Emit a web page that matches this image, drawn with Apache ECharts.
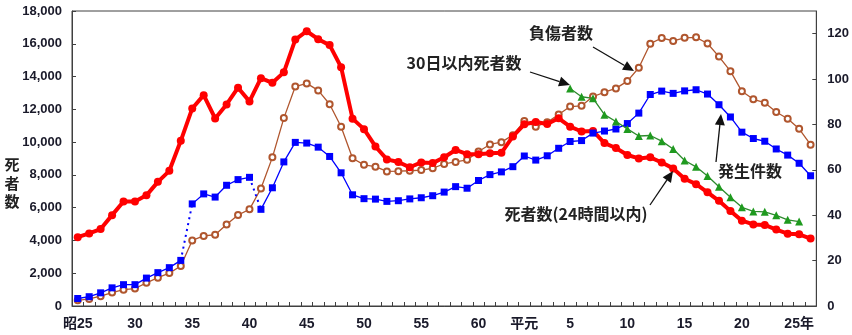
<!DOCTYPE html>
<html>
<head>
<meta charset="utf-8">
<script src="https://cdn.jsdelivr.net/npm/echarts@6/dist/echarts.min.js"></script>
<style>
html,body{margin:0;padding:0;background:#fff;}
#chart{width:852px;height:335px;}
</style>
</head>
<body>
<div id="chart"></div>
<script>
// Categories: 昭和25年 (1950) … 平成26年 (2014)
const categories = [
  '昭25','昭26','昭27','昭28','昭29','昭30','昭31','昭32','昭33','昭34',
  '昭35','昭36','昭37','昭38','昭39','昭40','昭41','昭42','昭43','昭44',
  '昭45','昭46','昭47','昭48','昭49','昭50','昭51','昭52','昭53','昭54',
  '昭55','昭56','昭57','昭58','昭59','昭60','昭61','昭62','昭63','平元',
  '平2','平3','平4','平5','平6','平7','平8','平9','平10','平11',
  '平12','平13','平14','平15','平16','平17','平18','平19','平20','平21',
  '平22','平23','平24','平25','平26'
];

// Tick labels shown on the x axis
const tickCats  = ['昭25','昭30','昭35','昭40','昭45','昭50','昭55','昭60','平元','平5','平10','平15','平20','平25'];
const tickTexts = ['昭25','30','35','40','45','50','55','60','平元','5','10','15','20','25年'];

// 死者数 (24時間以内), persons — left axis
const deaths24 = [
  4202,4429,4696,5544,6374,6379,6751,7575,8248,10079,
  12055,12865,11445,12301,13318,12484,13904,13618,14256,16257,
  16765,16278,15918,14574,11432,10792,9734,8945,8783,8466,
  8760,8719,9073,9520,9262,9261,9317,9347,10344,11086,
  11227,11109,11452,10942,10649,10684,9942,9640,9211,9006,
  9073,8757,8396,7768,7436,6937,6415,5796,5209,4979,
  4948,4663,4411,4373,4113
];

// 30日以内死者数, persons — left axis, 平5 … 平25
const deaths30Start = '平5';
const deaths30 = [
  13269,12768,12670,11674,11254,10805,10372,10403,10060,9575,
  8877,8492,7931,7272,6639,6023,5772,5745,5535,5261,5152
];

// 負傷者数, 10,000 persons — right axis
const injured = [
  2.5,3.1,4.3,5.9,7.2,7.7,10.2,12.5,14.5,17.6,
  28.9,30.9,31.4,35.9,40.1,42.6,51.8,65.5,82.8,96.7,
  98.1,95.0,88.9,79.0,65.1,62.2,61.4,59.3,59.4,59.6,
  59.9,60.7,62.6,63.5,64.4,68.1,71.2,72.2,75.3,81.5,
  79.0,81.0,84.4,87.9,88.2,92.3,94.2,95.9,99.1,105.0,
  115.6,118.1,116.8,118.2,118.4,115.7,109.9,103.5,94.6,91.1,
  89.6,85.5,82.5,78.1,71.1
];

// 発生件数, 10,000 cases — right axis
const accidents = [
  3.3,4.1,5.8,8.0,9.4,9.4,12.3,14.7,16.9,20.1,
  45.0,49.4,48.0,53.2,55.7,56.7,42.6,52.1,63.5,72.1,
  71.8,70.0,65.9,58.7,49.0,47.3,47.1,46.1,46.4,47.2,
  47.7,48.6,50.2,52.6,51.9,55.3,57.9,59.1,61.4,66.1,
  64.3,66.2,69.5,72.5,72.9,76.2,77.1,78.0,80.4,85.0,
  93.2,94.7,93.7,94.8,95.3,93.4,88.7,83.3,76.6,73.8,
  72.6,69.2,66.5,62.9,57.4
];
// 統計の取り方が変わった年 (dotted joins into these years)
const accidentBreaks = ['昭35','昭41'];

// ---- build series data from the arrays ----
const startIdx30 = categories.indexOf(deaths30Start);
const deaths30Full = categories.map((c, i) =>
  (i >= startIdx30 && i < startIdx30 + deaths30.length) ? deaths30[i - startIdx30] : null);

const breakIdx = accidentBreaks.map(c => categories.indexOf(c));
const segBounds = [0].concat(breakIdx, [categories.length]);
const accSegments = [];
for (let s = 0; s < segBounds.length - 1; s++) {
  const a = segBounds[s], b = segBounds[s + 1] - 1;
  accSegments.push(accidents.map((v, i) => (i >= a && i <= b) ? v : null));
}
const accDotted = breakIdx.map(bi => accidents.map((v, i) => (i === bi - 1 || i === bi) ? v : null));

const FONT = '"Liberation Sans", Arial, "Noto Sans CJK JP", sans-serif';
const JFONT = '"Noto Sans CJK JP", "Liberation Sans", sans-serif';
const AXIS_COLOR = '#404040';
const LABEL_COLOR = '#1a1a2a';
const BLUE = '#0000ff';

const chart = echarts.init(document.getElementById('chart'), null, {renderer: 'canvas'});

function arrow(x1, y1, x2, y2) {
  const dx = x2 - x1, dy = y2 - y1, L = Math.hypot(dx, dy);
  const ux = dx / L, uy = dy / L, hl = 11, hw = 5;
  const bx = x2 - ux * hl, by = y2 - uy * hl;
  return [
    {type: 'line', z: 100, shape: {x1: x1, y1: y1, x2: bx, y2: by},
     style: {stroke: '#111', lineWidth: 1.3}},
    {type: 'polygon', z: 100,
     shape: {points: [[x2, y2], [bx - uy * hw, by + ux * hw], [bx + uy * hw, by - ux * hw]]},
     style: {fill: '#111'}}
  ];
}
function label(text, x, y) {
  return {type: 'text', z: 100, x: x, y: y,
    style: {text: text, x: 0, y: 0, align: 'center', verticalAlign: 'middle',
      textAlign: 'center', textVerticalAlign: 'middle',
      font: 'bold 16px ' + JFONT, fill: '#222'}};
}

const series = [
  {
    name: '負傷者数', type: 'line', yAxisIndex: 1, data: injured,
    symbol: 'emptyCircle', symbolSize: 6, showAllSymbol: true, z: 2,
    lineStyle: {color: '#b0562e', width: 1.3},
    itemStyle: {color: '#b0562e', borderWidth: 1.2}
  },
  {
    name: '死者数(24時間以内)', type: 'line', yAxisIndex: 0, data: deaths24,
    symbol: 'circle', symbolSize: 8, showAllSymbol: true, z: 3,
    lineStyle: {color: '#ff0000', width: 4},
    itemStyle: {color: '#ff0000'}
  }
];
accSegments.forEach(d => series.push({
  name: '発生件数', type: 'line', yAxisIndex: 1, data: d, connectNulls: false,
  symbol: 'rect', symbolSize: 7, showAllSymbol: true, z: 4,
  lineStyle: {color: BLUE, width: 1.3}, itemStyle: {color: BLUE}
}));
accDotted.forEach(d => series.push({
  name: '発生件数', type: 'line', yAxisIndex: 1, data: d, connectNulls: false,
  symbol: 'none', z: 4,
  lineStyle: {color: BLUE, width: 2, type: [2, 4]}
}));
series.push({
  name: '30日以内死者数', type: 'line', yAxisIndex: 0, data: deaths30Full,
  symbol: 'triangle', symbolSize: 8, showAllSymbol: true, z: 5,
  lineStyle: {color: '#2e8b2e', width: 1.3},
  itemStyle: {color: '#1f9a1f'}
});

const option = {
  animation: false,
  backgroundColor: '#fff',
  textStyle: {fontFamily: FONT},
  grid: {left: 72, right: 32, top: 11, bottom: 29, show: true,
    borderColor: AXIS_COLOR, borderWidth: 1, backgroundColor: 'transparent'},
  xAxis: {
    type: 'category', data: categories, boundaryGap: true,
    axisLine: {lineStyle: {color: AXIS_COLOR, width: 1}},
    axisTick: {show: true, inside: true, length: 4, interval: 0,
      lineStyle: {color: AXIS_COLOR}},
    axisLabel: {
      interval: (idx, value) => tickCats.indexOf(value) >= 0,
      formatter: value => { const k = tickCats.indexOf(value); return k >= 0 ? tickTexts[k] : ''; },
      color: LABEL_COLOR, fontSize: 14, fontWeight: 'bold', fontFamily: FONT, margin: 11
    },
    splitLine: {show: false}
  },
  yAxis: [
    {
      type: 'value', min: 0, max: 18000, interval: 2000, position: 'left',
      axisLine: {show: true, lineStyle: {color: AXIS_COLOR}},
      axisTick: {show: true, inside: true, length: 4, lineStyle: {color: AXIS_COLOR}},
      axisLabel: {color: LABEL_COLOR, fontSize: 13, fontWeight: 'bold', fontFamily: FONT, margin: 10},
      splitLine: {show: false}
    },
    {
      type: 'value', min: 0, max: 130, interval: 20, position: 'right',
      axisLine: {show: true, lineStyle: {color: AXIS_COLOR}},
      axisTick: {show: true, inside: true, length: 4, lineStyle: {color: AXIS_COLOR}},
      axisLabel: {color: LABEL_COLOR, fontSize: 13, fontWeight: 'bold', fontFamily: FONT, margin: 11,
        showMaxLabel: false,
        formatter: v => (v % 20 === 0 ? String(v) : '')},
      splitLine: {show: false}
    }
  ],
  series: series,
  graphic: [
    {type: 'text', z: 100, x: 12, y: 183,
      style: {text: '死\n者\n数', x: 0, y: 0, align: 'center', verticalAlign: 'middle',
        textAlign: 'center', textVerticalAlign: 'middle',
        font: 'bold 15px ' + JFONT, lineHeight: 18.5, fill: '#222'}},
    label('負傷者数', 561, 33),
    label('30日以内死者数', 464, 63),
    label('発生件数', 750, 171),
    label('死者数(24時間以内)', 576, 214)
  ].concat(
    arrow(593, 47, 634, 71),
    arrow(530, 72, 570, 85),
    arrow(716, 162, 721, 114),
    arrow(650, 205, 673, 171)
  )
};

chart.setOption(option);
</script>
</body>
</html>
